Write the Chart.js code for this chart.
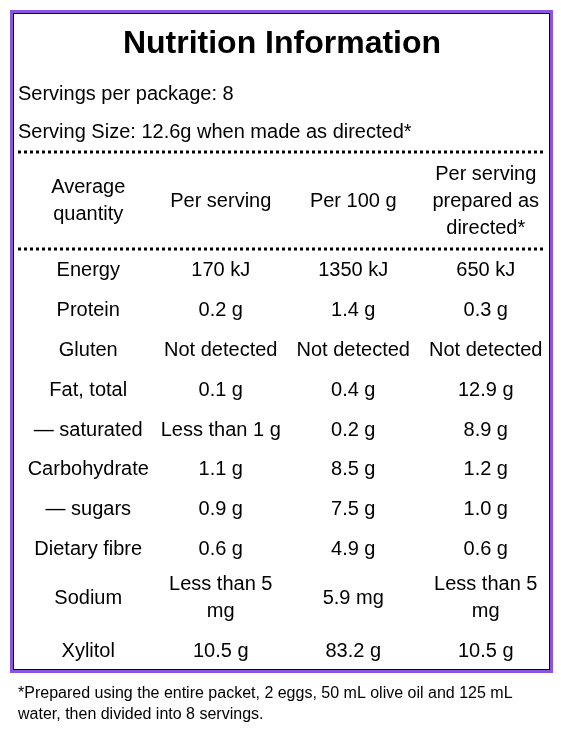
<!DOCTYPE html>
<html>
<head>
<meta charset="utf-8">
<script src="https://cdn.jsdelivr.net/npm/chart.js@4"></script>
<style>
  body { margin: 0; background: #fff; }
  canvas { display: block; }
</style>
</head>
<body>
<canvas id="panel" width="561" height="730"></canvas>
<script>
// table content
const title = 'Nutrition Information';
const servingsLine = 'Servings per package: 8';
const sizeLine = 'Serving Size: 12.6g when made as directed*';
const headers = ['Average\nquantity', 'Per serving', 'Per 100 g', 'Per serving\nprepared as\ndirected*'];
const nutrients = ['Energy', 'Protein', 'Gluten', 'Fat, total', '\u2014 saturated', 'Carbohydrate', '\u2014 sugars', 'Dietary fibre', 'Sodium', 'Xylitol'];
const perServing = ['170 kJ', '0.2 g', 'Not detected', '0.1 g', 'Less than 1 g', '1.1 g', '0.9 g', '0.6 g', 'Less than 5\nmg', '10.5 g'];
const per100g = ['1350 kJ', '1.4 g', 'Not detected', '0.4 g', '0.2 g', '8.5 g', '7.5 g', '4.9 g', '5.9 mg', '83.2 g'];
const perPrepared = ['650 kJ', '0.3 g', 'Not detected', '12.9 g', '8.9 g', '1.2 g', '1.0 g', '0.6 g', 'Less than 5\nmg', '10.5 g'];
const rowHeights = [1, 1, 1, 1, 1, 1, 1, 1, 1.45, 1.2];
const footnote = ['*Prepared using the entire packet, 2 eggs, 50 mL olive oil and 125 mL', 'water, then divided into 8 servings.'];

const FONT = '"Liberation Sans", Arial, sans-serif';
const totalUnits = rowHeights.reduce((a, b) => a + b, 0);

function multiline(ctx, text, x, y, lh) {
    const lines = text.split('\n');
    const start = y - (lines.length - 1) * lh / 2;
    lines.forEach((l, i) => ctx.fillText(l, x, start + i * lh));
}

function dotted(ctx, y) {
    ctx.save();
    ctx.strokeStyle = '#000';
    ctx.lineWidth = 3;
    ctx.setLineDash([3, 3]);
    ctx.beginPath();
    ctx.moveTo(18, y);
    ctx.lineTo(546, y);
    ctx.stroke();
    ctx.restore();
}

const tablePlugin = {
    id: 'tablePlugin',
    afterDraw(chart) {
        const ctx = chart.ctx;
        const xs = chart.scales.x;
        const ys = chart.scales.y;
        ctx.save();
        // frame
        ctx.strokeStyle = '#8c52e0';
        ctx.lineWidth = 3;
        ctx.strokeRect(11.5, 11.5, 540, 660);
        ctx.strokeStyle = '#000';
        ctx.lineWidth = 1;
        ctx.strokeRect(13.5, 13.5, 536, 656);

        ctx.fillStyle = '#000';
        ctx.textBaseline = 'middle';
        ctx.textAlign = 'center';
        ctx.font = 'bold 32px ' + FONT;
        ctx.fillText(title, 282, 44);

        ctx.textAlign = 'left';
        ctx.font = '20px ' + FONT;
        ctx.fillText(servingsLine, 18, 94);
        ctx.fillText(sizeLine, 18, 132);

        dotted(ctx, 152);
        dotted(ctx, 249);

        ctx.textAlign = 'center';
        headers.forEach((h, c) => multiline(ctx, h, xs.getPixelForValue(c), 201, 27));

        const cols = [nutrients, perServing, per100g, perPrepared];
        let acc = 0;
        rowHeights.forEach((h, r) => {
            const y = ys.getPixelForValue(acc + h / 2);
            acc += h;
            cols.forEach((col, c) => multiline(ctx, col[r], xs.getPixelForValue(c), y, 27));
        });

        ctx.textAlign = 'left';
        ctx.font = '16px ' + FONT;
        ctx.fillText(footnote[0], 18, 694);
        ctx.fillText(footnote[1], 18, 715);
        ctx.restore();
    }
};

new Chart(document.getElementById('panel'), {
    type: 'scatter',
    data: { datasets: [] },
    options: {
        responsive: false,
        animation: false,
        layout: { padding: { left: 22, right: 9, top: 251, bottom: 55 } },
        plugins: { legend: { display: false }, tooltip: { enabled: false } },
        scales: {
            x: { type: 'category', labels: headers.map((_, i) => i), offset: true, display: false },
            y: { type: 'linear', min: 0, max: totalUnits, reverse: true, display: false }
        }
    },
    plugins: [tablePlugin]
});
</script>
</body>
</html>
